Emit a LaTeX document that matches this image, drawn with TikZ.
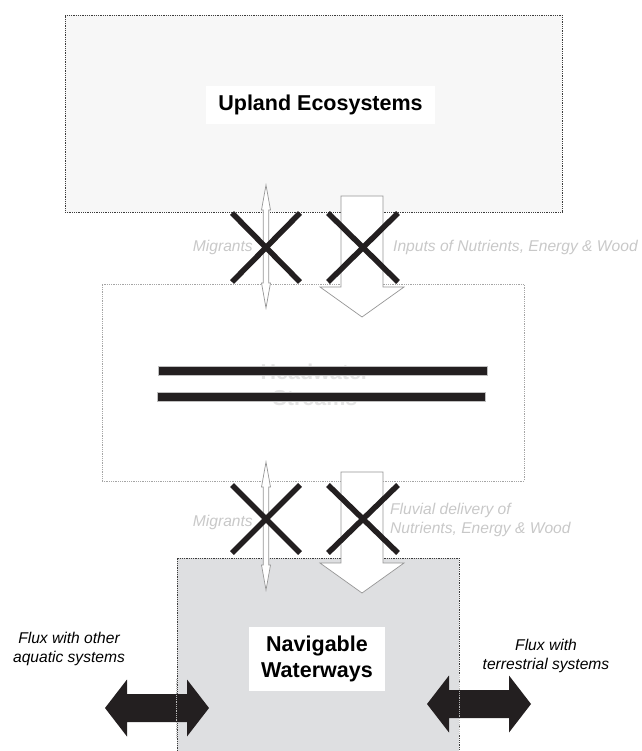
\documentclass[tikz,border=0pt]{standalone}
\usepackage{fontspec}
\setmainfont{Liberation Sans}

\definecolor{uplandfill}{RGB}{247,247,247}
\definecolor{navfill}{RGB}{222,223,225}
\definecolor{boxline}{RGB}{60,60,60}
\definecolor{headline}{RGB}{165,165,165}
\definecolor{xblack}{RGB}{35,31,32}
\definecolor{ghost}{RGB}{200,200,200}
\definecolor{ghostbold}{RGB}{228,228,228}
\definecolor{hollowline}{RGB}{150,150,150}

\begin{document}
\begin{tikzpicture}
	[
	x=1pt, y=-1pt,
	%Kästen
	area/.style={rectangle, inner sep=0pt, densely dotted, line width=0.8pt},
	namebox/.style={fill=white, inner xsep=12pt, inner ysep=9pt, align=center,
		font=\bfseries\fontsize{21.5}{26}\selectfont},
	note/.style={inner sep=0pt, font=\itshape\fontsize{15.6}{19}\selectfont},
	%Pfeile
	hollow/.style={draw=hollowline, fill=white, line width=0.7pt, line join=miter},
	cross/.style={draw=xblack, line width=5.5pt},
	bar/.style={fill=xblack, draw=gray!50, line width=0.5pt},
	flux/.style={fill=xblack}
	]
	\useasboundingbox (0,0) rectangle (641,751);
	%\draw[step=50, gray, very thin] (0,0) grid (641,751);
	
	%Kästen
	\node[area, draw=boxline, fill=uplandfill, minimum width=497pt, minimum height=197pt] (upland) at (313.5,113.5) {};
	\node[area, draw=headline, fill=white, minimum width=422pt, minimum height=197pt] (headwater) at (313,382.5) {};
	\node[area, draw=boxline, fill=navfill, minimum width=282pt, minimum height=196pt] (navigable) at (318,656) {};
	
	\node[namebox] (uplandname) at (320.5,105) {Upland Ecosystems};
	\node[namebox] (navname) at (317,659) {Navigable\\Waterways};
	
	%Headwater, durchgestrichen
	\node[align=center, inner sep=0pt, text=ghostbold, font=\bfseries\fontsize{21.5}{26}\selectfont] (headname) at (315,385) {Headwater\\Streams};
	\draw[bar] (158,366) rectangle (487,375.5);
	\draw[bar] (157,392) rectangle (485,401);
	
	%oben
	\begin{scope}
		\draw[hollow] (266,185) -- (270.5,210) -- (268.75,210) -- (268.75,283) -- (270.5,283) -- (266,308)
			-- (261.5,283) -- (263.25,283) -- (263.25,210) -- (261.5,210) -- cycle;
		\draw[hollow] (341,196) -- (383,196) -- (383,287) -- (404,287) -- (362,317) -- (320,287) -- (341,287) -- cycle;
		\draw[cross] (232,213) -- (300,282) (232,282) -- (300,213);
		\draw[cross] (328,213) -- (398,282) (328,282) -- (398,213);
		\node[note, text=ghost, anchor=east] (migrantsup) at (253,247) {Migrants};
		\node[note, text=ghost, anchor=west] (inputs) at (393,247) {Inputs of Nutrients, Energy \& Wood};
	\end{scope}
	
	%unten
	\begin{scope}
		\draw[hollow] (266,462) -- (270.5,487) -- (268.75,487) -- (268.75,565) -- (270.5,565) -- (266,590)
			-- (261.5,565) -- (263.25,565) -- (263.25,487) -- (261.5,487) -- cycle;
		\draw[hollow] (341,472) -- (383,472) -- (383,563) -- (404,563) -- (362,593) -- (320,563) -- (341,563) -- cycle;
		\draw[cross] (232,485) -- (300,553) (232,553) -- (300,485);
		\draw[cross] (328,485) -- (398,553) (328,553) -- (398,485);
		\node[note, text=ghost, anchor=east] (migrantsdown) at (253,522) {Migrants};
		\node[note, text=ghost, anchor=west, align=left] (fluvial) at (390,519.5) {Fluvial delivery of\\Nutrients, Energy \& Wood};
	\end{scope}
	
	%Flux
	\fill[flux] (105,708) -- (127,679.5) -- (127,694) -- (187,694) -- (187,679.5) -- (209,708)
		-- (187,736.5) -- (187,722) -- (127,722) -- (127,736.5) -- cycle;
	\fill[flux] (427,704) -- (449,675.5) -- (449,690) -- (509,690) -- (509,675.5) -- (531,704)
		-- (509,732.5) -- (509,718) -- (449,718) -- (449,732.5) -- cycle;
	\draw[densely dotted, line width=0.8pt, gray!55] (navigable.north west |- 0,679) -- (navigable.north west |- 0,737);
	\draw[densely dotted, line width=0.8pt, gray!55] (navigable.north east |- 0,675) -- (navigable.north east |- 0,733);
	\node[note, align=center] (fluxaquatic) at (69,648.5) {Flux with other\\aquatic systems};
	\node[note, align=center] (fluxterr) at (546,655.5) {Flux with\\terrestrial systems};
\end{tikzpicture}
\end{document}
